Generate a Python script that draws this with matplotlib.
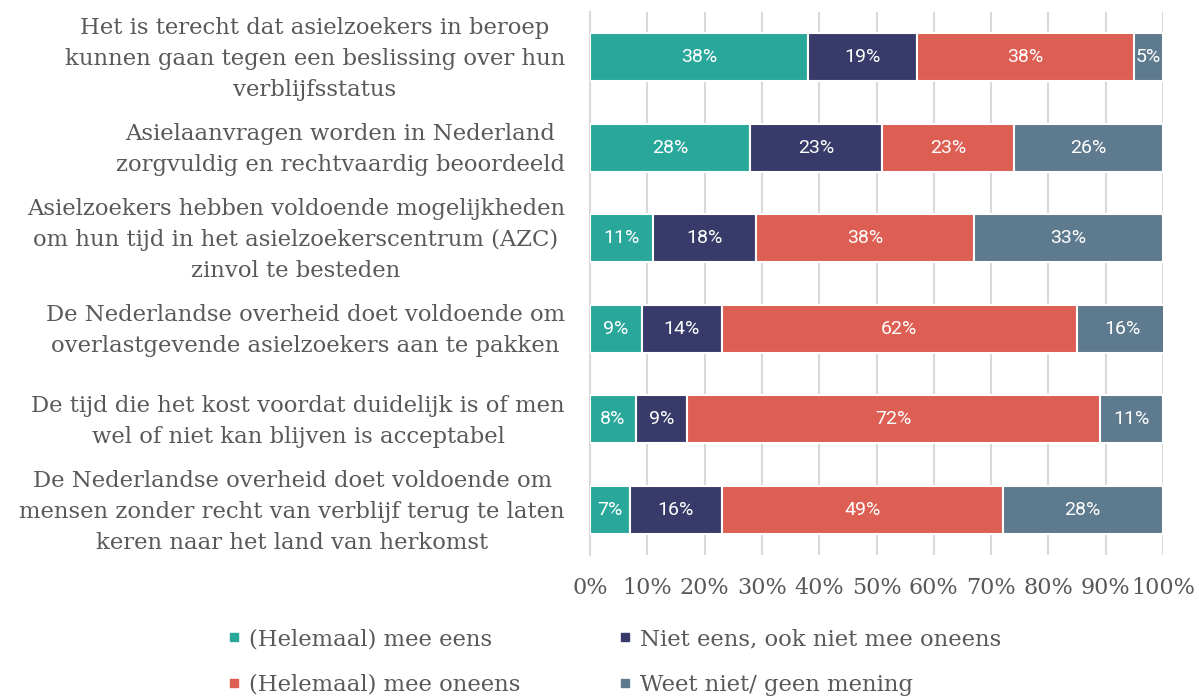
import matplotlib
matplotlib.use("Agg")
import matplotlib.pyplot as plt
import matplotlib.transforms as mtransforms
from matplotlib.lines import Line2D
import numpy as np

statements = [
    "Het is terecht dat asielzoekers in beroep\nkunnen gaan tegen een beslissing over hun\nverblijfsstatus",
    "Asielaanvragen worden in Nederland\nzorgvuldig en rechtvaardig beoordeeld",
    "Asielzoekers hebben voldoende mogelijkheden\nom hun tijd in het asielzoekerscentrum (AZC)\nzinvol te besteden",
    "De Nederlandse overheid doet voldoende om\noverlastgevende asielzoekers aan te pakken",
    "De tijd die het kost voordat duidelijk is of men\nwel of niet kan blijven is acceptabel",
    "De Nederlandse overheid doet voldoende om\nmensen zonder recht van verblijf terug te laten\nkeren naar het land van herkomst",
]
series_names = [
    "(Helemaal) mee eens",
    "Niet eens, ook niet mee oneens",
    "(Helemaal) mee oneens",
    "Weet niet/ geen mening",
]
mee_eens = [38, 28, 11, 9, 8, 7]
neutraal = [19, 23, 18, 14, 9, 16]
mee_oneens = [38, 23, 38, 62, 72, 49]
weet_niet = [5, 26, 33, 16, 11, 28]
x_ticks = [0, 10, 20, 30, 40, 50, 60, 70, 80, 90, 100]

colors = ["#2AA79B", "#383B69", "#DD5E53", "#5E7A8E"]
text_grey = "#595959"
serif = "DejaVu Serif"

fig = plt.figure(figsize=(11.99, 6.97), dpi=100)
ax = fig.add_axes([590 / 1199, 1 - 555 / 697, 573 / 1199, 543 / 697])

y = np.arange(len(statements))
left = np.zeros(len(statements))
for name, vals, col in zip(series_names, [mee_eens, neutraal, mee_oneens, weet_niet], colors):
    vals = np.array(vals, dtype=float)
    ax.barh(y, vals, left=left, height=0.53, color=col, edgecolor="white",
            linewidth=1.5, label=name, zorder=3)
    for yi, l, v in zip(y, left, vals):
        ax.text(l + v / 2, yi, f"{int(v)}%", ha="center", va="center",
                color="white", fontsize=14, family="Roboto", zorder=4)
    left += vals

ax.set_xlim(0, 100)
ax.set_ylim(len(statements) - 0.5, -0.5)
ax.set_xticks(x_ticks)
ax.set_xticklabels([f"{t}%" for t in x_ticks], family=serif, fontsize=16, color=text_grey)
ax.set_yticks(y)
ax.set_yticklabels(statements, family=serif, fontsize=16.4, color=text_grey,
                   multialignment="center", linespacing=1.52)
ax.tick_params(axis="both", length=0)
ax.tick_params(axis="y", pad=18)
ax.tick_params(axis="x", pad=16)

# nudge the statement labels up a few pixels so they sit centred on the bars
shift = mtransforms.ScaledTranslation(0, 5 / 100, fig.dpi_scale_trans)
for lbl in ax.get_yticklabels():
    lbl.set_transform(lbl.get_transform() + shift)

ax.grid(axis="x", color="#d9d9d9", linewidth=1.5, zorder=0)
ax.set_axisbelow(True)
for s in ["top", "right", "bottom"]:
    ax.spines[s].set_visible(False)
ax.spines["left"].set_color("#d9d9d9")
ax.spines["left"].set_linewidth(1.5)

# legend laid out row by row: (eens, neutraal) / (oneens, weet niet)
order = [0, 2, 1, 3]
handles = [Line2D([0], [0], marker="s", linestyle="none", markersize=6,
                  markerfacecolor=colors[i], markeredgecolor=colors[i]) for i in order]
leg = fig.legend(handles, [series_names[i] for i in order], loc="center", ncol=2,
                 bbox_to_anchor=(615 / 1199, 1 - 662 / 697), frameon=False,
                 prop={"family": serif, "size": 16.4}, handlelength=0.5,
                 handletextpad=0.4, columnspacing=4.35, labelspacing=1.05)
for t in leg.get_texts():
    t.set_color(text_grey)

fig.savefig("out.png", dpi=100)
